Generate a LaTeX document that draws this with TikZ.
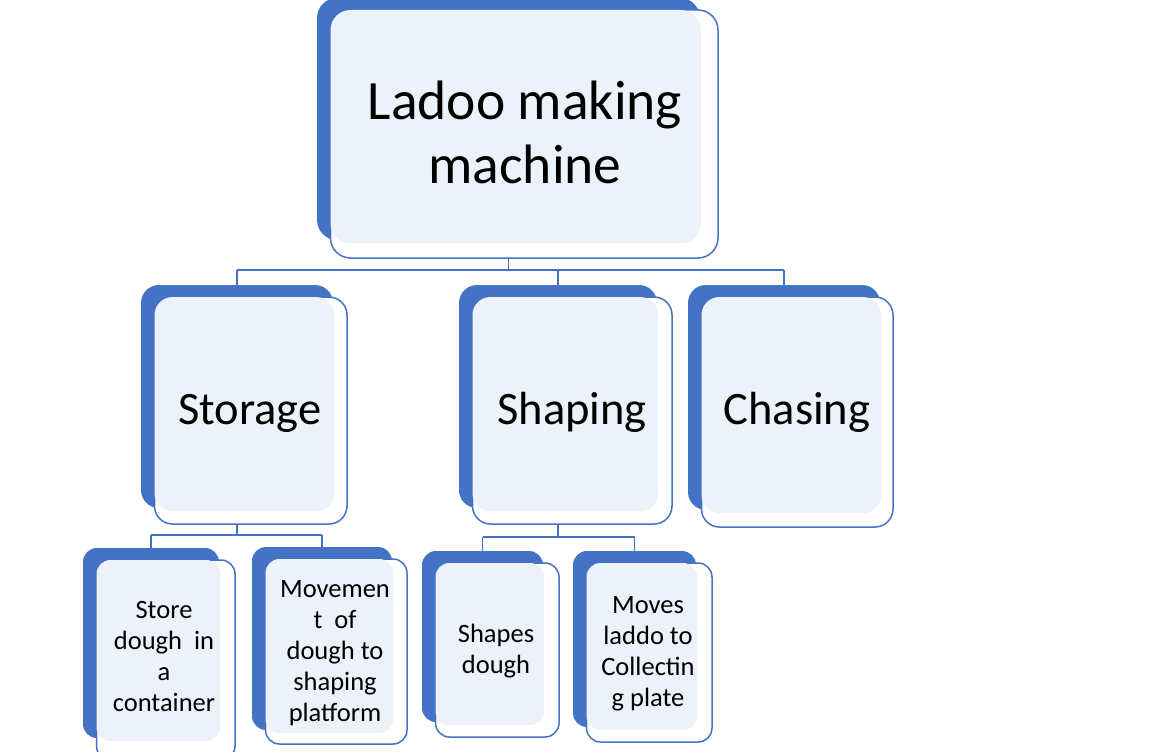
\documentclass[tikz,border=0pt]{standalone}
\usepackage{fontspec}
\setmainfont{Carlito}
\usetikzlibrary{fit}
\definecolor{acc}{HTML}{4472C4}
\definecolor{lite}{HTML}{ECF1FA}
\newcommand\orgbox[8]{%
  \node[fit={(#2,#3)(#4,#5)}, inner sep=0pt, fill=acc, rounded corners=#8] (#1b) {};
  \node[fit={(#2+13.5,#3+12)(#6,#7)}, inner sep=0pt, draw=acc, line width=1.5pt, fill=white, rounded corners=#8] (#1) {};
  \fill[lite, rounded corners=#8] (#2+13.5,#3+12) rectangle (#4+1,#5+3);
}
\begin{document}
\begin{tikzpicture}[x=1pt,y=-1pt,
  conn/.style={draw=acc, line width=1.5pt},
  lvlA/.style={font=\fontsize{55.5}{64}\selectfont, align=center, inner sep=0pt},
  lvlB/.style={font=\fontsize{46.5}{54}\selectfont, inner sep=0pt, anchor=base},
  lvlC/.style={font=\fontsize{26.5}{31}\selectfont, align=center, inner sep=0pt}]
\useasboundingbox (0,0) rectangle (1152,752);
% boxes
\orgbox{root}{317}{-2}{700}{240}{718}{258}{20pt}
\orgbox{stor}{141}{285}{333}{508}{347}{524}{18pt}
\orgbox{shap}{459}{285}{657}{508}{672}{524}{18pt}
\orgbox{chas}{688}{285}{880}{510}{893}{527}{18pt}
\orgbox{stdo}{83}{548}{219}{738}{235}{760}{14pt}
\orgbox{move}{252}{547}{392}{730}{407}{744}{14pt}
\orgbox{shdo}{422}{551}{543}{722}{559}{737}{14pt}
\orgbox{mola}{573}{551}{696}{727}{712}{742}{14pt}
% texts
\node[lvlA] (troot) at (525,132) {Ladoo making\\machine};
\node[lvlB] (tstor) at (250,424) {Storage};
\node[lvlB] (tshap) at (572,424) {Shaping};
\node[lvlB] (tchas) at (797,424) {Chasing};
\node[lvlC] (tstdo) at (164,656) {Store\\dough~~in\\a\\container};
\node[lvlC] (tmove) at (335,653) {Movemen\\t~~of\\dough to\\shaping\\platform};
\node[lvlC] (tshdo) at (496,651) {Shapes\\dough};
\node[lvlC] (tmola) at (648,654) {Moves\\laddo to\\Collectin\\g plate};
% connectors
\coordinate (barA) at (0,270);
\coordinate (barB) at (0,535);
\coordinate (barC) at (0,537);
\draw[conn] (rootb.south |- root.south) -- (rootb.south |- barA);
\draw[conn] (storb.north |- barA) -- (chasb.north |- barA);
\draw[conn] (storb.north |- barA) -- (storb.north);
\draw[conn] (shapb.north |- barA) -- (shapb.north);
\draw[conn] (chasb.north |- barA) -- (chasb.north);
\draw[conn] (storb.south |- stor.south) -- (storb.south |- barB);
\draw[conn] (stdob.north |- barB) -- (moveb.north |- barB);
\draw[conn] (stdob.north |- barB) -- (stdob.north);
\draw[conn] (moveb.north |- barB) -- (moveb.north);
\draw[conn] (shapb.south |- shap.south) -- (shapb.south |- barC);
\draw[conn] (shdob.north |- barC) -- (molab.north |- barC);
\draw[conn] (shdob.north |- barC) -- (shdob.north);
\draw[conn] (molab.north |- barC) -- (molab.north);
\end{tikzpicture}
\end{document}
